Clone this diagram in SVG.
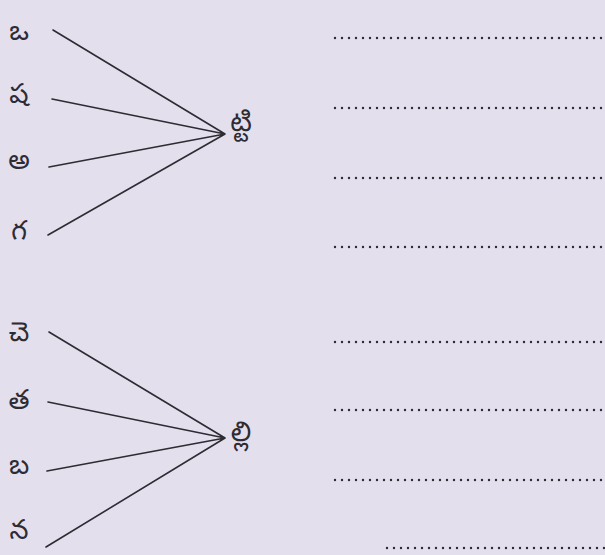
<svg xmlns="http://www.w3.org/2000/svg" width="605" height="555" viewBox="0 0 605 555">
<style>
.bg{fill:#e3dfec}
.ln{stroke:#2e2b33;stroke-width:1.6;fill:none;stroke-linecap:round}
.lt{font-family:"Noto Sans Telugu","Noto Sans","DejaVu Sans",sans-serif;font-size:27px;fill:#2e2b33;text-anchor:middle;dominant-baseline:central}
.nd{font-family:"Noto Sans Telugu","Noto Sans","DejaVu Sans",sans-serif;font-size:28px;fill:#2e2b33;text-anchor:middle;dominant-baseline:central}
.dot{stroke:#2e2b33;stroke-width:2.4;stroke-dasharray:0 7;stroke-linecap:round;fill:none}
</style>
<rect class="bg" width="605" height="555"/>
<g id="letters-top">
<g id="n-o"><text class="lt" x="19" y="35">ఒ</text></g>
<g id="n-sha"><text class="lt" x="19" y="98">ష</text></g>
<g id="n-a"><text class="lt" x="19" y="164">అ</text></g>
<g id="n-ga"><text class="lt" x="19" y="234">గ</text></g>
</g>
<g id="n-tti"><text class="nd" x="241" y="126">ట్టి</text></g>
<g id="letters-bottom">
<g id="n-che"><text class="lt" x="19" y="336">చె</text></g>
<g id="n-ta"><text class="lt" x="19" y="404">త</text></g>
<g id="n-ba"><text class="lt" x="19" y="469">బ</text></g>
<g id="n-na"><text class="lt" x="19" y="534">న</text></g>
</g>
<g id="n-lli"><text class="nd" x="241" y="436">ల్లి</text></g>
<g id="connectors">
<path class="ln" d="M53 30L225 134M52 99L225 134M49 167L225 134M48 235L225 134"/>
<path class="ln" d="M49 332L225 438M48 402L225 438M47 471L225 438M46 547L225 438"/>
</g>
<g id="answer-lines">
<path class="dot" d="M335 38H605M335 108H605M335 178H605M335 247H605M335 342H605M335 410H605M335 480H605M387 548H605"/>
</g>
</svg>
